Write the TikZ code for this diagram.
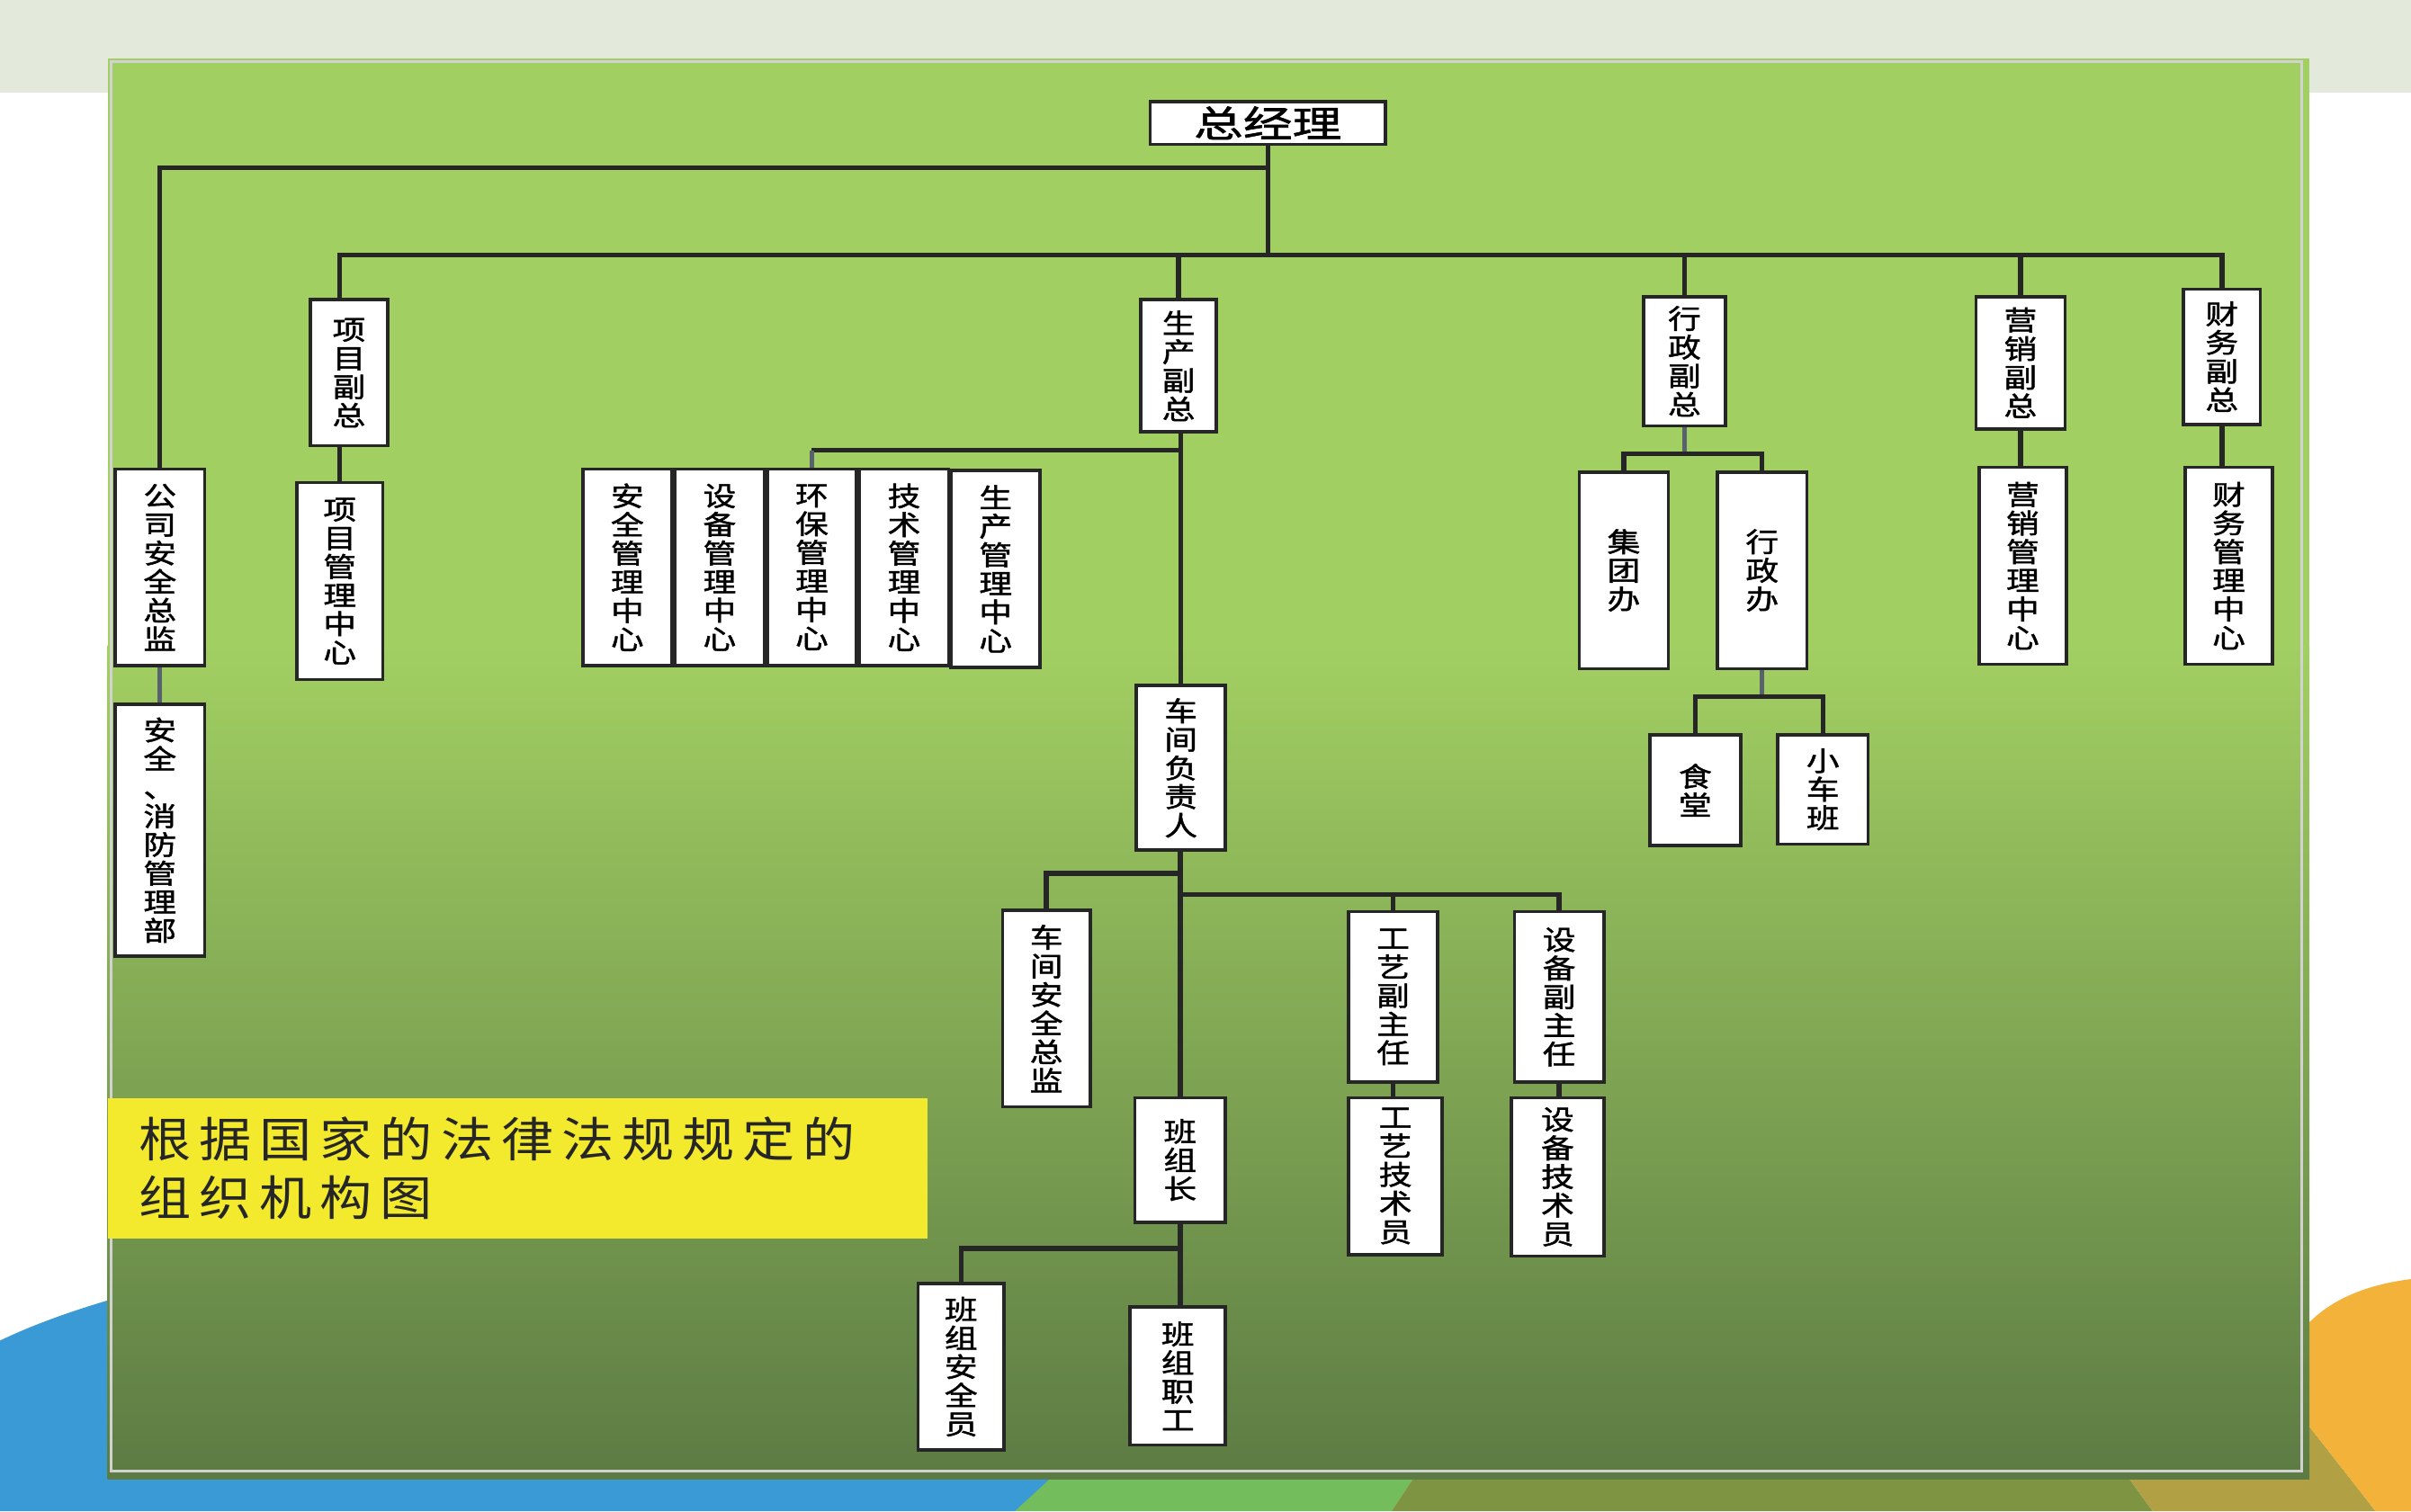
\documentclass[tikz,border=0pt]{standalone}
\usepackage{fontspec}
\newfontfamily\cjkbox{Noto Sans CJK SC}[FakeStretch=1.22,FakeBold=1.5]
\newfontfamily\cjktop{Noto Sans CJK SC}[FakeStretch=1.35,FakeBold=1.5]
\newfontfamily\cjknote{Noto Sans CJK SC}[FakeStretch=1.1,LetterSpace=17]
\definecolor{panelhi}{HTML}{A2CF62}
\definecolor{panelmid}{HTML}{7CAA4D}
\definecolor{panello}{HTML}{5C7B44}
\definecolor{strip}{HTML}{E3EADC}
\definecolor{bgblue}{HTML}{3A9AD6}
\definecolor{bggreen}{HTML}{73BD5C}
\definecolor{bgolive}{HTML}{7F9443}
\definecolor{bgkhaki}{HTML}{B1A044}
\definecolor{bgorange}{HTML}{F3B23A}
\definecolor{notefill}{HTML}{F3EA2E}
\definecolor{ink}{HTML}{262626}
\definecolor{stub}{HTML}{58626E}

\begin{document}
\begin{tikzpicture}[x=0.02cm,y=-0.02cm,
		vbox/.style 2 args={draw=ink,fill=white,line width=1.2pt,inner sep=0pt,align=center,minimum width=#1*0.02cm,minimum height=#2*0.02cm,font=\cjkbox\fontsize{10pt}{10.6pt}\selectfont},
		conn/.style={draw=ink,line width=1.8pt},
		stubline/.style={draw=stub,line width=1.8pt}]
	\useasboundingbox (0,0) rectangle (1568,983);
	\fill[white] (0,0) rectangle (1568,983);
	\fill[strip] (0,0) rectangle (1568,60);
	\fill[bgblue] (0,983) -- (0,872) .. controls (150,800) and (500,780) .. (750,790) -- (715,960) -- (660,983) -- cycle;
	\fill[bggreen] (750,900) -- (660,983) -- (905,983) -- (960,900) -- cycle;
	\fill[bgolive] (960,900) -- (905,983) -- (1400,983) -- (1340,900) -- cycle;
	\fill[bgkhaki] (1340,900) -- (1400,983) -- (1545,983) -- (1480,900) -- cycle;
	\fill[bgorange] (1545,983) -- (1480,900) .. controls (1490,860) and (1520,838) .. (1568,832) -- (1568,983) -- cycle;
	\fill[panelhi] (70,38) rectangle (1502,962);
	\shade[top color=panelhi,middle color=panelmid,bottom color=panello] (70,420) rectangle (1502,962);
	\draw[gray!35,line width=1pt] (72,40) rectangle (1497,957);

	\node[fill=notefill,anchor=north west,minimum width=533*0.02cm,minimum height=91*0.02cm,text width=493*0.02cm,inner xsep=20*0.02cm,inner ysep=0pt,align=left,font=\cjknote\fontsize{17.6pt}{21.6pt}\selectfont,text=ink] (note) at (70,714) {根据国家的法律法规规定的\\组织机构图};

	\node[draw=ink,fill=white,line width=1.2pt,inner sep=0pt,minimum width=153*0.02cm,minimum height=28*0.02cm,font=\cjktop\fontsize{13.5pt}{14pt}\selectfont] (gm) at (824.5,80) {总经理};
	\node[vbox={58}{128}] (aq) at (104,369) {公\\司\\安\\全\\总\\监};
	\node[vbox={58}{164}] (xf) at (104,540) {安\\全\\、\\消\\防\\管\\理\\部};
	\node[vbox={50}{95}] (xm) at (227,242.5) {项\\目\\副\\总};
	\node[vbox={56}{128}] (xmzx) at (221,378) {项\\目\\管\\理\\中\\心};
	\node[vbox={49}{86}] (sc) at (766.5,238) {生\\产\\副\\总};
	\node[vbox={58}{128}] (aqzx) at (408,369) {安\\全\\管\\理\\中\\心};
	\node[vbox={58}{128}] (sbzx) at (468,369) {设\\备\\管\\理\\中\\心};
	\node[vbox={58}{128}] (hb) at (528,369) {环\\保\\管\\理\\中\\心};
	\node[vbox={58}{128}] (jszx) at (588,369) {技\\术\\管\\理\\中\\心};
	\node[vbox={58}{128}] (sczx) at (647.5,370) {生\\产\\管\\理\\中\\心};
	\node[vbox={58}{107}] (cj) at (768,499.5) {车\\间\\负\\责\\人};
	\node[vbox={57}{128}] (cjaq) at (680.5,656) {车\\间\\安\\全\\总\\监};
	\node[vbox={58}{111}] (gy) at (906,648.5) {工\\艺\\副\\主\\任};
	\node[vbox={58}{111}] (sb) at (1014,648.5) {设\\备\\副\\主\\任};
	\node[vbox={61}{102}] (gyjs) at (907.5,765) {工\\艺\\技\\术\\员};
	\node[vbox={60}{103}] (sbjs) at (1013,765.5) {设\\备\\技\\术\\员};
	\node[vbox={59}{81}] (bz) at (767.5,754.5) {班\\组\\长};
	\node[vbox={56}{108}] (bzaq) at (625,889) {班\\组\\安\\全\\员};
	\node[vbox={62}{90}] (bzzg) at (766,895) {班\\组\\职\\工};
	\node[vbox={53}{84}] (xz) at (1095.5,235) {行\\政\\副\\总};
	\node[vbox={58}{128}] (jt) at (1056,371) {集\\团\\办};
	\node[vbox={58}{128}] (xzb) at (1146,371) {行\\政\\办};
	\node[vbox={59}{72}] (st) at (1102.5,514) {食\\堂};
	\node[vbox={59}{71}] (xc) at (1185.5,513.5) {小\\车\\班};
	\node[vbox={58}{86}] (yx) at (1314,236) {营\\销\\副\\总};
	\node[vbox={57}{128}] (yxzx) at (1315.5,368) {营\\销\\管\\理\\中\\心};
	\node[vbox={50}{88}] (cw) at (1445,232) {财\\务\\副\\总};
	\node[vbox={57}{128}] (cwzx) at (1449.5,368) {财\\务\\管\\理\\中\\心};

	\coordinate (lvla) at (0,109);
	\coordinate (bus) at (0,166);
	\coordinate (lvlb) at (0,293);
	\coordinate (lvlc) at (0,295);
	\coordinate (lvld) at (0,453);
	\coordinate (lvle) at (0,568);
	\coordinate (lvlf) at (0,582);
	\coordinate (lvlg) at (0,812);

	\draw[conn] (gm.south) -- (gm.south |- bus);
	\draw[conn] (aq.north) |- (gm.south |- lvla);
	\draw[conn] (xmzx.north |- xm.north) |- (cw.north |- bus) -- (cw.north);
	\draw[conn] (sc.north) -- (sc.north |- bus);
	\draw[conn] (xz.north) -- (xz.north |- bus);
	\draw[conn] (yx.north) -- (yx.north |- bus);
	\draw[stubline] (aq.south) -- (xf.north);
	\draw[conn] (xmzx.north |- xm.south) -- (xmzx.north);
	\draw[conn] (cj.north |- sc.south) -- (cj.north);
	\draw[conn] (cj.north |- lvlb) -- (hb.north |- lvlb);
	\draw[stubline] (hb.north |- lvlb) -- (hb.north);
	\draw[conn] (bz.north |- cj.south) -- (bz.north);
	\draw[conn] (bz.north |- lvle) -| (cjaq.north);
	\draw[conn] (bz.north |- lvlf) -| (sb.north);
	\draw[conn] (gy.north |- lvlf) -- (gy.north);
	\draw[conn] (gy.south) -- (gy.south |- gyjs.north);
	\draw[conn] (sb.south) -- (sb.south |- sbjs.north);
	\draw[conn] (bz.south) -- (bz.south |- bzzg.north);
	\draw[conn] (bz.south |- lvlg) -| (bzaq.north);
	\draw[stubline] (xz.south) -- (xz.south |- lvlc);
	\draw[conn] (jt.north) |- (xzb.north |- lvlc) -- (xzb.north);
	\draw[stubline] (xzb.south) -- (xzb.south |- lvld);
	\draw[conn] (st.north) |- (xc.north |- lvld) -- (xc.north);
	\draw[conn] (yx.south) -- (yx.south |- yxzx.north);
	\draw[conn] (cw.south) -- (cw.south |- cwzx.north);
\end{tikzpicture}
\end{document}
